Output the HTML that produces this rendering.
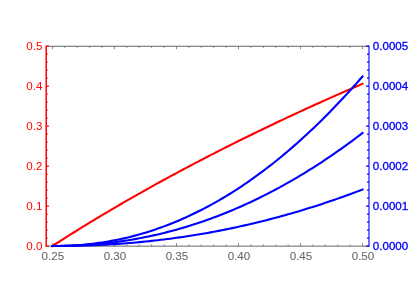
<!DOCTYPE html>
<html><head><meta charset="utf-8"><title>plot</title>
<style>html,body{margin:0;padding:0;background:#fff}svg{display:block;will-change:transform}</style></head>
<body>
<svg width="415" height="292" viewBox="0 0 415 292">
<rect width="415" height="292" fill="#fff"/>
<path d="M46.20 46.25 H369.00 M46.20 246.15 H369.00" stroke="#666" stroke-width="1.0" fill="none"/>
<path d="M52.45 246.15 v-3.00 M52.45 46.25 v3.00 M64.85 246.15 v-1.70 M64.85 46.25 v1.70 M77.26 246.15 v-1.70 M77.26 46.25 v1.70 M89.66 246.15 v-1.70 M89.66 46.25 v1.70 M102.07 246.15 v-1.70 M102.07 46.25 v1.70 M114.47 246.15 v-3.00 M114.47 46.25 v3.00 M126.87 246.15 v-1.70 M126.87 46.25 v1.70 M139.28 246.15 v-1.70 M139.28 46.25 v1.70 M151.68 246.15 v-1.70 M151.68 46.25 v1.70 M164.09 246.15 v-1.70 M164.09 46.25 v1.70 M176.49 246.15 v-3.00 M176.49 46.25 v3.00 M188.89 246.15 v-1.70 M188.89 46.25 v1.70 M201.30 246.15 v-1.70 M201.30 46.25 v1.70 M213.70 246.15 v-1.70 M213.70 46.25 v1.70 M226.11 246.15 v-1.70 M226.11 46.25 v1.70 M238.51 246.15 v-3.00 M238.51 46.25 v3.00 M250.91 246.15 v-1.70 M250.91 46.25 v1.70 M263.32 246.15 v-1.70 M263.32 46.25 v1.70 M275.72 246.15 v-1.70 M275.72 46.25 v1.70 M288.13 246.15 v-1.70 M288.13 46.25 v1.70 M300.53 246.15 v-3.00 M300.53 46.25 v3.00 M312.93 246.15 v-1.70 M312.93 46.25 v1.70 M325.34 246.15 v-1.70 M325.34 46.25 v1.70 M337.74 246.15 v-1.70 M337.74 46.25 v1.70 M350.15 246.15 v-1.70 M350.15 46.25 v1.70 M362.55 246.15 v-3.00 M362.55 46.25 v3.00" stroke="#666" stroke-width="0.78" fill="none"/>
<path d="M46.20 45.5 V246.7" stroke="#f00" stroke-width="1.50" fill="none"/>
<path d="M46.20 246.00 H48.90 M46.20 238.00 H47.65 M46.20 230.00 H47.65 M46.20 222.00 H47.65 M46.20 214.00 H47.65 M46.20 206.00 H48.90 M46.20 198.00 H47.65 M46.20 190.00 H47.65 M46.20 182.00 H47.65 M46.20 174.00 H47.65 M46.20 166.00 H48.90 M46.20 158.00 H47.65 M46.20 150.00 H47.65 M46.20 142.00 H47.65 M46.20 134.00 H47.65 M46.20 126.00 H48.90 M46.20 118.00 H47.65 M46.20 110.00 H47.65 M46.20 102.00 H47.65 M46.20 94.00 H47.65 M46.20 86.00 H48.90 M46.20 78.00 H47.65 M46.20 70.00 H47.65 M46.20 62.00 H47.65 M46.20 54.00 H47.65 M46.20 46.00 H48.90" stroke="#f00" stroke-width="1.25" fill="none"/>
<path d="M369.00 45.5 V246.7" stroke="#00f" stroke-width="1.10" fill="none"/>
<path d="M369.00 246.05 H365.95 M369.00 238.05 H367.00 M369.00 230.05 H367.00 M369.00 222.05 H367.00 M369.00 214.05 H367.00 M369.00 206.05 H365.95 M369.00 198.05 H367.00 M369.00 190.05 H367.00 M369.00 182.05 H367.00 M369.00 174.05 H367.00 M369.00 166.05 H365.95 M369.00 158.05 H367.00 M369.00 150.05 H367.00 M369.00 142.05 H367.00 M369.00 134.05 H367.00 M369.00 126.05 H365.95 M369.00 118.05 H367.00 M369.00 110.05 H367.00 M369.00 102.05 H367.00 M369.00 94.05 H367.00 M369.00 86.05 H365.95 M369.00 78.05 H367.00 M369.00 70.05 H367.00 M369.00 62.05 H367.00 M369.00 54.05 H367.00 M369.00 46.05 H365.95" stroke="#00f" stroke-width="1.2" fill="none"/>
<g fill="none" stroke-width="2.10" stroke-linejoin="round" stroke-linecap="square">
<path stroke="#f00" d="M52.40 246.00 L55.50 244.00 L58.60 242.02 L61.70 240.04 L64.80 238.08 L67.91 236.12 L71.01 234.18 L74.11 232.24 L77.21 230.31 L80.31 228.39 L83.41 226.48 L86.51 224.58 L89.61 222.69 L92.71 220.81 L95.81 218.94 L98.91 217.07 L102.02 215.22 L105.12 213.37 L108.22 211.53 L111.32 209.70 L114.42 207.88 L117.52 206.06 L120.62 204.26 L123.72 202.46 L126.82 200.67 L129.93 198.89 L133.03 197.11 L136.13 195.35 L139.23 193.59 L142.33 191.84 L145.43 190.10 L148.53 188.36 L151.63 186.63 L154.73 184.91 L157.83 183.20 L160.94 181.49 L164.04 179.79 L167.14 178.10 L170.24 176.42 L173.34 174.74 L176.44 173.07 L179.54 171.41 L182.64 169.75 L185.74 168.10 L188.84 166.46 L191.94 164.82 L195.05 163.19 L198.15 161.57 L201.25 159.96 L204.35 158.35 L207.45 156.74 L210.55 155.15 L213.65 153.56 L216.75 151.97 L219.85 150.39 L222.96 148.82 L226.06 147.26 L229.16 145.70 L232.26 144.14 L235.36 142.60 L238.46 141.05 L241.56 139.52 L244.66 137.99 L247.76 136.47 L250.86 134.95 L253.97 133.44 L257.07 131.93 L260.17 130.43 L263.27 128.93 L266.37 127.44 L269.47 125.96 L272.57 124.48 L275.67 123.01 L278.77 121.54 L281.87 120.08 L284.98 118.62 L288.08 117.17 L291.18 115.72 L294.28 114.28 L297.38 112.84 L300.48 111.41 L303.58 109.99 L306.68 108.56 L309.78 107.15 L312.88 105.74 L315.99 104.33 L319.09 102.93 L322.19 101.53 L325.29 100.14 L328.39 98.76 L331.49 97.37 L334.59 96.00 L337.69 94.63 L340.79 93.26 L343.89 91.90 L347.00 90.54 L350.10 89.18 L353.20 87.83 L356.30 86.49 L359.40 85.15 L362.50 83.81"/>
<path stroke="#00f" d="M52.40 246.00 L55.50 246.00 L58.60 245.99 L61.70 245.97 L64.80 245.94 L67.91 245.90 L71.01 245.85 L74.11 245.79 L77.21 245.73 L80.31 245.65 L83.41 245.56 L86.51 245.46 L89.61 245.36 L92.71 245.24 L95.81 245.11 L98.91 244.97 L102.02 244.82 L105.12 244.66 L108.22 244.48 L111.32 244.30 L114.42 244.11 L117.52 243.90 L120.62 243.68 L123.72 243.46 L126.82 243.22 L129.93 242.97 L133.03 242.71 L136.13 242.43 L139.23 242.15 L142.33 241.85 L145.43 241.55 L148.53 241.23 L151.63 240.90 L154.73 240.55 L157.83 240.20 L160.94 239.83 L164.04 239.46 L167.14 239.07 L170.24 238.67 L173.34 238.25 L176.44 237.83 L179.54 237.39 L182.64 236.94 L185.74 236.48 L188.84 236.01 L191.94 235.52 L195.05 235.02 L198.15 234.51 L201.25 233.99 L204.35 233.46 L207.45 232.91 L210.55 232.35 L213.65 231.78 L216.75 231.20 L219.85 230.60 L222.96 230.00 L226.06 229.38 L229.16 228.74 L232.26 228.10 L235.36 227.44 L238.46 226.77 L241.56 226.09 L244.66 225.39 L247.76 224.69 L250.86 223.97 L253.97 223.23 L257.07 222.49 L260.17 221.73 L263.27 220.96 L266.37 220.18 L269.47 219.38 L272.57 218.57 L275.67 217.75 L278.77 216.92 L281.87 216.07 L284.98 215.21 L288.08 214.34 L291.18 213.45 L294.28 212.55 L297.38 211.64 L300.48 210.72 L303.58 209.78 L306.68 208.83 L309.78 207.87 L312.88 206.89 L315.99 205.90 L319.09 204.90 L322.19 203.89 L325.29 202.86 L328.39 201.82 L331.49 200.76 L334.59 199.70 L337.69 198.62 L340.79 197.52 L343.89 196.42 L347.00 195.30 L350.10 194.16 L353.20 193.02 L356.30 191.86 L359.40 190.69 L362.50 189.50"/>
<path stroke="#00f" d="M52.40 246.00 L55.50 245.99 L58.60 245.97 L61.70 245.93 L64.80 245.87 L67.91 245.80 L71.01 245.70 L74.11 245.59 L77.21 245.45 L80.31 245.30 L83.41 245.12 L86.51 244.93 L89.61 244.71 L92.71 244.47 L95.81 244.22 L98.91 243.94 L102.02 243.64 L105.12 243.31 L108.22 242.97 L111.32 242.60 L114.42 242.21 L117.52 241.80 L120.62 241.37 L123.72 240.91 L126.82 240.44 L129.93 239.94 L133.03 239.41 L136.13 238.87 L139.23 238.30 L142.33 237.71 L145.43 237.09 L148.53 236.45 L151.63 235.79 L154.73 235.11 L157.83 234.40 L160.94 233.67 L164.04 232.91 L167.14 232.13 L170.24 231.33 L173.34 230.50 L176.44 229.65 L179.54 228.78 L182.64 227.88 L185.74 226.96 L188.84 226.01 L191.94 225.04 L195.05 224.05 L198.15 223.03 L201.25 221.98 L204.35 220.92 L207.45 219.82 L210.55 218.71 L213.65 217.57 L216.75 216.40 L219.85 215.21 L222.96 213.99 L226.06 212.75 L229.16 211.49 L232.26 210.20 L235.36 208.88 L238.46 207.54 L241.56 206.18 L244.66 204.79 L247.76 203.37 L250.86 201.93 L253.97 200.47 L257.07 198.98 L260.17 197.46 L263.27 195.92 L266.37 194.35 L269.47 192.76 L272.57 191.14 L275.67 189.50 L278.77 187.83 L281.87 186.14 L284.98 184.42 L288.08 182.67 L291.18 180.90 L294.28 179.11 L297.38 177.28 L300.48 175.43 L303.58 173.56 L306.68 171.66 L309.78 169.73 L312.88 167.78 L315.99 165.81 L319.09 163.80 L322.19 161.77 L325.29 159.72 L328.39 157.63 L331.49 155.53 L334.59 153.39 L337.69 151.23 L340.79 149.04 L343.89 146.83 L347.00 144.59 L350.10 142.33 L353.20 140.04 L356.30 137.72 L359.40 135.37 L362.50 133.00"/>
<path stroke="#00f" d="M52.40 246.00 L55.50 245.99 L58.60 245.96 L61.70 245.90 L64.80 245.81 L67.91 245.70 L71.01 245.55 L74.11 245.38 L77.21 245.18 L80.31 244.95 L83.41 244.68 L86.51 244.39 L89.61 244.07 L92.71 243.71 L95.81 243.32 L98.91 242.90 L102.02 242.45 L105.12 241.97 L108.22 241.45 L111.32 240.90 L114.42 240.32 L117.52 239.70 L120.62 239.05 L123.72 238.37 L126.82 237.66 L129.93 236.90 L133.03 236.12 L136.13 235.30 L139.23 234.45 L142.33 233.56 L145.43 232.64 L148.53 231.68 L151.63 230.69 L154.73 229.66 L157.83 228.60 L160.94 227.50 L164.04 226.37 L167.14 225.20 L170.24 224.00 L173.34 222.76 L176.44 221.48 L179.54 220.17 L182.64 218.82 L185.74 217.44 L188.84 216.02 L191.94 214.56 L195.05 213.07 L198.15 211.54 L201.25 209.98 L204.35 208.37 L207.45 206.74 L210.55 205.06 L213.65 203.35 L216.75 201.60 L219.85 199.81 L222.96 197.99 L226.06 196.13 L229.16 194.23 L232.26 192.30 L235.36 190.32 L238.46 188.31 L241.56 186.27 L244.66 184.18 L247.76 182.06 L250.86 179.90 L253.97 177.70 L257.07 175.47 L260.17 173.19 L263.27 170.88 L266.37 168.53 L269.47 166.14 L272.57 163.72 L275.67 161.25 L278.77 158.75 L281.87 156.21 L284.98 153.63 L288.08 151.01 L291.18 148.35 L294.28 145.66 L297.38 142.92 L300.48 140.15 L303.58 137.34 L306.68 134.49 L309.78 131.60 L312.88 128.67 L315.99 125.71 L319.09 122.70 L322.19 119.66 L325.29 116.57 L328.39 113.45 L331.49 110.29 L334.59 107.09 L337.69 103.85 L340.79 100.57 L343.89 97.25 L347.00 93.89 L350.10 90.49 L353.20 87.05 L356.30 83.58 L359.40 80.06 L362.50 76.50"/>
</g>
<g font-family="Liberation Sans, sans-serif" font-size="11.6px" stroke-width="0.15">
<text x="52.90" y="260.4" text-anchor="middle" fill="#666" stroke="#666" stroke-width="0.05">0.25</text>
<text x="114.92" y="260.4" text-anchor="middle" fill="#666" stroke="#666" stroke-width="0.05">0.30</text>
<text x="176.94" y="260.4" text-anchor="middle" fill="#666" stroke="#666" stroke-width="0.05">0.35</text>
<text x="238.96" y="260.4" text-anchor="middle" fill="#666" stroke="#666" stroke-width="0.05">0.40</text>
<text x="300.98" y="260.4" text-anchor="middle" fill="#666" stroke="#666" stroke-width="0.05">0.45</text>
<text x="363.00" y="260.4" text-anchor="middle" fill="#666" stroke="#666" stroke-width="0.05">0.50</text>
<text x="42.4" y="249.80" text-anchor="end" fill="#f00" stroke="none">0.0</text>
<text x="372.8" y="250.00" text-anchor="start" fill="#00f" stroke="#00f" stroke-width="0.3">0.0000</text>
<text x="42.4" y="209.80" text-anchor="end" fill="#f00" stroke="none">0.1</text>
<text x="372.8" y="210.00" text-anchor="start" fill="#00f" stroke="#00f" stroke-width="0.3">0.0001</text>
<text x="42.4" y="169.80" text-anchor="end" fill="#f00" stroke="none">0.2</text>
<text x="372.8" y="170.00" text-anchor="start" fill="#00f" stroke="#00f" stroke-width="0.3">0.0002</text>
<text x="42.4" y="129.80" text-anchor="end" fill="#f00" stroke="none">0.3</text>
<text x="372.8" y="130.00" text-anchor="start" fill="#00f" stroke="#00f" stroke-width="0.3">0.0003</text>
<text x="42.4" y="89.80" text-anchor="end" fill="#f00" stroke="none">0.4</text>
<text x="372.8" y="90.00" text-anchor="start" fill="#00f" stroke="#00f" stroke-width="0.3">0.0004</text>
<text x="42.4" y="49.80" text-anchor="end" fill="#f00" stroke="none">0.5</text>
<text x="372.8" y="50.00" text-anchor="start" fill="#00f" stroke="#00f" stroke-width="0.3">0.0005</text>
</g>
</svg>
</body></html>
